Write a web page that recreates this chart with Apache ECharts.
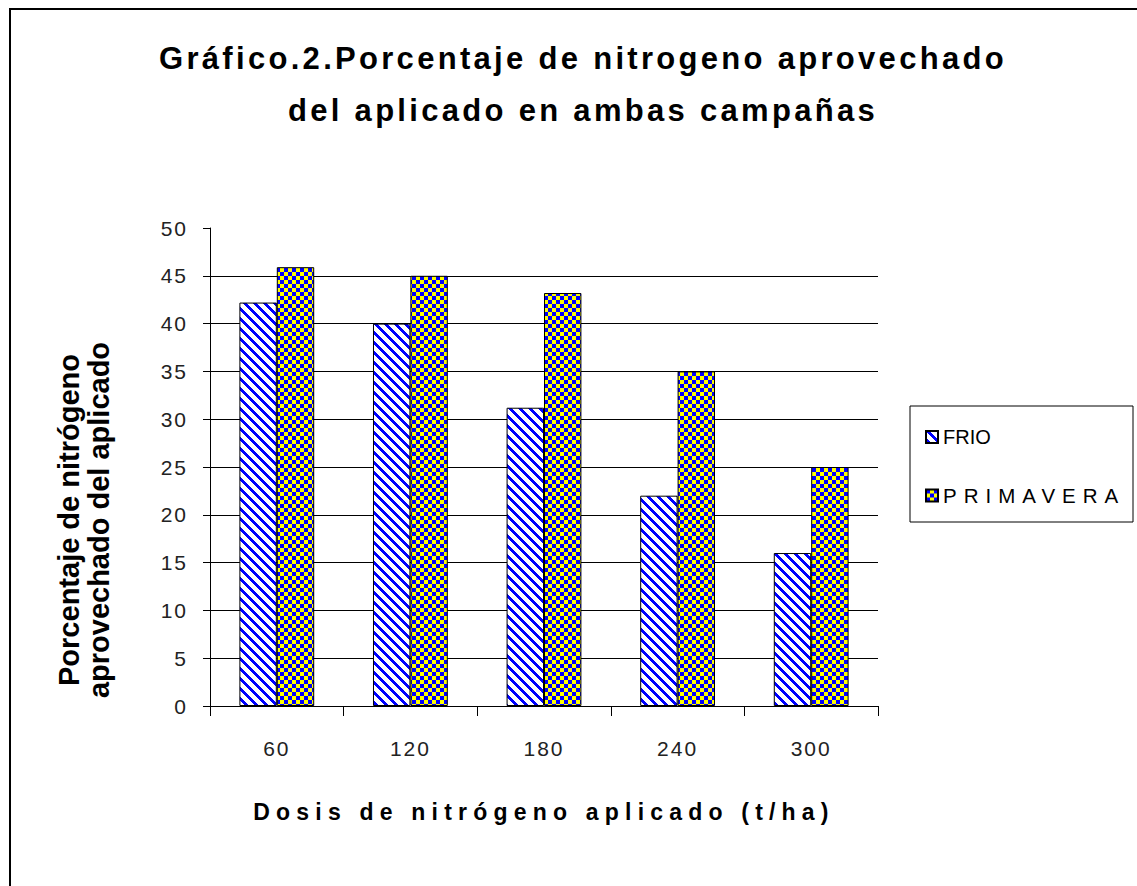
<!DOCTYPE html>
<html>
<head>
<meta charset="utf-8">
<script src="https://cdn.jsdelivr.net/npm/echarts@6/dist/echarts.min.js"></script>
<style>
  html, body { margin: 0; padding: 0; background: #fff; }
  #chart { width: 1137px; height: 886px; }
  /* wide, spaced-out lettering of the headings and labels */
  #chart text[style*="31px"] { letter-spacing: 3.3px; }
  #chart text[style*="23px"] { letter-spacing: 6.2px; }
  #chart text[style*="20.5px"] { letter-spacing: 7px; }
  #chart text[style*="21px"] { letter-spacing: 2px; }
</style>
</head>
<body>
<div id="chart"></div>
<script>
// ---- data ----
const categories = ['60', '120', '180', '240', '300'];
const frio = [42.2, 40, 31.2, 22, 16];
const primavera = [45.9, 45, 43.2, 35, 25];
const seriesNames = ['FRIO', 'PRIMAVERA'];
const titleLines = ['Gráfico.2.Porcentaje de nitrogeno aprovechado', 'del aplicado en ambas campañas'];
const xAxisTitle = 'Dosis de nitrógeno aplicado (t/ha)';
const yAxisTitle = ['Porcentaje de nitrógeno', 'aprovechado del aplicado'];
const yMin = 0, yMax = 50, yStep = 5;

// ---- fill patterns ----
function stripeTile() {
  const n = 10;
  const c = document.createElement('canvas');
  c.width = n; c.height = n;
  const g = c.getContext('2d');
  g.fillStyle = '#ffffff';
  g.fillRect(0, 0, n, n);
  g.fillStyle = '#0000ff';
  for (let y = 0; y < n; y++) {
    for (let x = 0; x < n; x++) {
      if (((x - y) % n + n) % n < 4) g.fillRect(x, y, 1, 1);
    }
  }
  return c.toDataURL();
}
function checkerTile() {
  const c = document.createElement('canvas');
  c.width = 8; c.height = 8;
  const g = c.getContext('2d');
  g.fillStyle = '#ffff00';
  g.fillRect(0, 0, 8, 8);
  g.fillStyle = '#0000ff';
  g.fillRect(0, 0, 4, 4);
  g.fillRect(4, 4, 4, 4);
  return c.toDataURL();
}
const stripeFill = { image: stripeTile(), repeat: 'repeat' };
const checkerFill = { image: checkerTile(), repeat: 'repeat' };

const chart = echarts.init(document.getElementById('chart'), null, { renderer: 'svg' });

const fontFamily = "'Liberation Sans', Arial, sans-serif";

chart.setOption({
  backgroundColor: '#ffffff',
  animation: false,
  title: {
    text: titleLines.join('\n'),
    left: 578,
    top: 27,
    textAlign: 'center',
    textStyle: {
      fontFamily: fontFamily,
      fontSize: 31,
      fontWeight: 'bold',
      color: '#000',
      lineHeight: 52
    }
  },
  legend: {
    data: seriesNames,
    orient: 'vertical',
    left: 920,
    top: 422,
    itemWidth: 12,
    itemHeight: 12,
    itemGap: 38,
    icon: 'rect',
    formatter: name => name === 'PRIMAVERA' ? '{w|' + name + '}' : name,
    textStyle: {
      fontFamily: fontFamily,
      fontSize: 20,
      color: '#000',
      rich: { w: { fontFamily: fontFamily, fontSize: 20.5, color: '#000' } }
    }
  },
  grid: { left: 210, right: 259, top: 228, bottom: 180, containLabel: false },
  xAxis: {
    type: 'category',
    data: categories,
    boundaryGap: true,
    name: xAxisTitle,
    nameLocation: 'middle',
    nameGap: 94,
    nameTextStyle: { fontFamily: fontFamily, fontSize: 23, fontWeight: 'bold', color: '#000' },
    axisLine: { show: true, lineStyle: { color: '#000', width: 1 } },
    axisTick: { show: true, interval: 0, length: 10, alignWithLabel: false, lineStyle: { color: '#000' } },
    axisLabel: { fontFamily: fontFamily, fontSize: 21, color: '#222', margin: 32 },
    splitLine: { show: false }
  },
  yAxis: {
    type: 'value',
    min: yMin,
    max: yMax,
    interval: yStep,
    axisLine: { show: true, lineStyle: { color: '#000', width: 1 } },
    axisTick: { show: true, length: 7, lineStyle: { color: '#000' } },
    axisLabel: { fontFamily: fontFamily, fontSize: 21, color: '#222', margin: 22 },
    splitLine: { show: true, showMaxLine: false, lineStyle: { color: '#000', width: 1 } }
  },
  series: [
    {
      name: seriesNames[0],
      type: 'bar',
      data: frio,
      barGap: '0%',
      barCategoryGap: '44%',
      itemStyle: { color: stripeFill, borderColor: '#000', borderWidth: 1 }
    },
    {
      name: seriesNames[1],
      type: 'bar',
      data: primavera,
      barGap: '0%',
      barCategoryGap: '44%',
      itemStyle: { color: checkerFill, borderColor: '#000', borderWidth: 1 }
    }
  ],
  graphic: [
    {
      // page frame
      type: 'rect',
      silent: true,
      shape: { x: 10, y: 9, width: 1200, height: 1000 },
      style: { fill: 'none', stroke: '#000', lineWidth: 2 }
    },
    {
      // legend box
      type: 'rect',
      silent: true,
      shape: { x: 910, y: 406, width: 223, height: 116 },
      style: { fill: 'none', stroke: '#000', lineWidth: 1 }
    },
    {
      // value-axis title, two rotated lines
      type: 'text',
      silent: true,
      x: 84,
      y: 520,
      rotation: Math.PI / 2,
      style: {
        text: yAxisTitle.join('\n'),
        fontFamily: fontFamily,
        fontSize: 29,
        fontWeight: 'bold',
        lineHeight: 30,
        fill: '#000',
        textAlign: 'center',
        textVerticalAlign: 'middle'
      }
    }
  ]
});
</script>
</body>
</html>
